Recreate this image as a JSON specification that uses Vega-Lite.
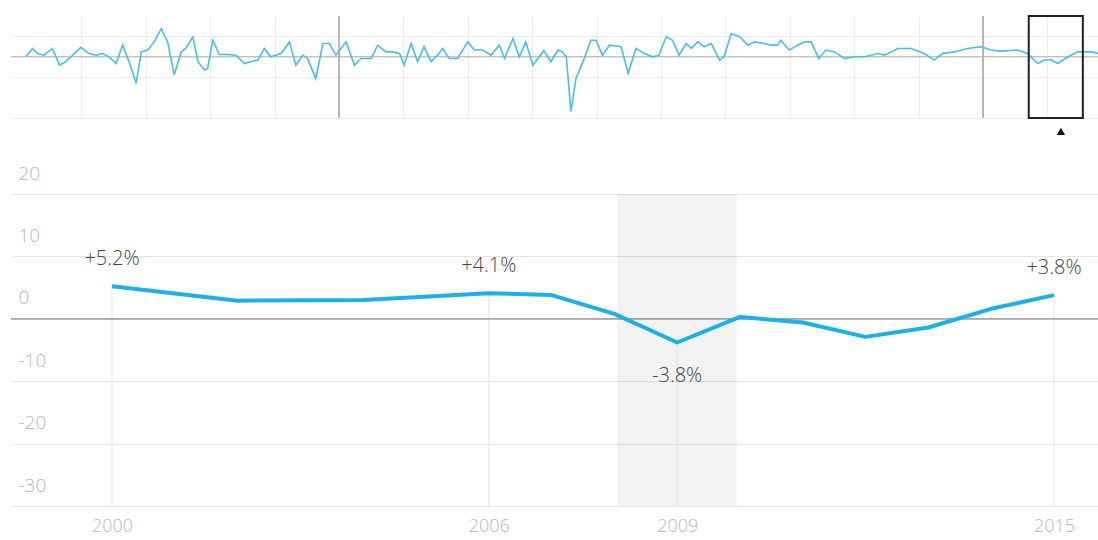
{
  "$schema": "https://vega.github.io/schema/vega-lite/v6.json",
  "background": "white",
  "padding": {"top": 15, "left": 10, "right": 0, "bottom": 0},
  "bounds": "flush",
  "spacing": 76,
  "config": {"view": {"stroke": null}, "font": "Open Sans"},
  "datasets": {
    "main": [
      {"year": 2000, "value": 5.2},
      {"year": 2002, "value": 2.9},
      {"year": 2004, "value": 3.0},
      {"year": 2006, "value": 4.1},
      {"year": 2007, "value": 3.8},
      {"year": 2008, "value": 0.8},
      {"year": 2009, "value": -3.8},
      {"year": 2010, "value": 0.3},
      {"year": 2011, "value": -0.6},
      {"year": 2012, "value": -2.9},
      {"year": 2013, "value": -1.4},
      {"year": 2014, "value": 1.6},
      {"year": 2015, "value": 3.8}
    ],
    "notes": [
      {"year": 2000, "value": 5.2, "label": "+5.2%", "pos": "above"},
      {"year": 2006, "value": 4.1, "label": "+4.1%", "pos": "above"},
      {"year": 2009, "value": -3.8, "label": "-3.8%", "pos": "below"},
      {"year": 2015, "value": 3.8, "label": "+3.8%", "pos": "above"}
    ],
    "overview": [
      {"t": 1995.14, "v": 0}, {"t": 1995.24, "v": 4.1}, {"t": 1995.32, "v": 1.6}, {"t": 1995.42, "v": 0.8},
      {"t": 1995.55, "v": 4.1}, {"t": 1995.66, "v": -4.1}, {"t": 1995.76, "v": -2.4}, {"t": 1995.99, "v": 4.6},
      {"t": 1996.12, "v": 1.6}, {"t": 1996.23, "v": 0.8}, {"t": 1996.33, "v": 1.6}, {"t": 1996.43, "v": 0},
      {"t": 1996.54, "v": -3.3}, {"t": 1996.64, "v": 5.7}, {"t": 1996.74, "v": -2.4}, {"t": 1996.85, "v": -13},
      {"t": 1996.93, "v": 2.4}, {"t": 1997.03, "v": 3.3}, {"t": 1997.13, "v": 7.3}, {"t": 1997.24, "v": 13.8},
      {"t": 1997.34, "v": 7.3}, {"t": 1997.44, "v": -8.9}, {"t": 1997.55, "v": 2.4}, {"t": 1997.62, "v": 4.1},
      {"t": 1997.73, "v": 9.8}, {"t": 1997.81, "v": -2.4}, {"t": 1997.91, "v": -6.5}, {"t": 1997.96, "v": -5.7},
      {"t": 1998.04, "v": 8.1}, {"t": 1998.14, "v": 1.1}, {"t": 1998.27, "v": 1.1}, {"t": 1998.40, "v": 0.8},
      {"t": 1998.53, "v": -3.3}, {"t": 1998.63, "v": -2.4}, {"t": 1998.74, "v": -1.6}, {"t": 1998.84, "v": 4.1},
      {"t": 1998.94, "v": 0}, {"t": 1999.10, "v": 1.6}, {"t": 1999.23, "v": 7.3}, {"t": 1999.33, "v": -4.1},
      {"t": 1999.44, "v": 0.8}, {"t": 1999.51, "v": -0.8}, {"t": 1999.64, "v": -10.6}, {"t": 1999.75, "v": 6.5},
      {"t": 1999.85, "v": 6.5}, {"t": 1999.95, "v": 0.8}, {"t": 2000.11, "v": 7.3}, {"t": 2000.24, "v": -4.1},
      {"t": 2000.34, "v": -0.8}, {"t": 2000.50, "v": -0.8}, {"t": 2000.60, "v": 5.7}, {"t": 2000.73, "v": 2.4},
      {"t": 2000.83, "v": 2.4}, {"t": 2000.94, "v": 1.6}, {"t": 2001.01, "v": -4.1}, {"t": 2001.12, "v": 6.5},
      {"t": 2001.22, "v": -2.4}, {"t": 2001.32, "v": 4.9}, {"t": 2001.43, "v": -2.4}, {"t": 2001.53, "v": 0.8},
      {"t": 2001.61, "v": 4.1}, {"t": 2001.71, "v": -0.8}, {"t": 2001.84, "v": -0.8}, {"t": 2002.00, "v": 7.3},
      {"t": 2002.10, "v": 3.3}, {"t": 2002.23, "v": 3.3}, {"t": 2002.36, "v": 0.8}, {"t": 2002.49, "v": 5.7},
      {"t": 2002.57, "v": -0.8}, {"t": 2002.70, "v": 8.9}, {"t": 2002.80, "v": 0}, {"t": 2002.90, "v": 7.3},
      {"t": 2003.01, "v": -4.1}, {"t": 2003.18, "v": 3.0}, {"t": 2003.29, "v": -2.4}, {"t": 2003.40, "v": 3.3},
      {"t": 2003.47, "v": 2.4}, {"t": 2003.53, "v": 0}, {"t": 2003.60, "v": -26.8}, {"t": 2003.68, "v": -10.6},
      {"t": 2003.81, "v": -0.8}, {"t": 2003.91, "v": 8.1}, {"t": 2003.99, "v": 8.1}, {"t": 2004.09, "v": 0.8},
      {"t": 2004.20, "v": 5.7}, {"t": 2004.38, "v": 4.9}, {"t": 2004.49, "v": -8.1}, {"t": 2004.61, "v": 4.1},
      {"t": 2004.74, "v": 1.6}, {"t": 2004.87, "v": 0}, {"t": 2004.97, "v": 0.8}, {"t": 2005.08, "v": 9.8},
      {"t": 2005.18, "v": 8.1}, {"t": 2005.28, "v": 0.8}, {"t": 2005.39, "v": 6.5}, {"t": 2005.47, "v": 4.1},
      {"t": 2005.57, "v": 7.3}, {"t": 2005.67, "v": 4.9}, {"t": 2005.78, "v": 6.5}, {"t": 2005.91, "v": -1.6},
      {"t": 2005.98, "v": 0}, {"t": 2006.09, "v": 11.4}, {"t": 2006.22, "v": 9.8}, {"t": 2006.35, "v": 5.7},
      {"t": 2006.45, "v": 7.3}, {"t": 2006.60, "v": 6.5}, {"t": 2006.71, "v": 5.7}, {"t": 2006.81, "v": 5.7},
      {"t": 2006.86, "v": 8.1}, {"t": 2006.99, "v": 3.3}, {"t": 2007.12, "v": 5.7}, {"t": 2007.23, "v": 7.3},
      {"t": 2007.33, "v": 7.3}, {"t": 2007.45, "v": -0.8}, {"t": 2007.56, "v": 3.3}, {"t": 2007.69, "v": 2.4},
      {"t": 2007.85, "v": -0.8}, {"t": 2008.00, "v": 0}, {"t": 2008.16, "v": 0}, {"t": 2008.37, "v": 1.6},
      {"t": 2008.47, "v": 0.8}, {"t": 2008.68, "v": 4.1}, {"t": 2008.88, "v": 4.1}, {"t": 2009.09, "v": 1.6},
      {"t": 2009.24, "v": -1.6}, {"t": 2009.37, "v": 1.6}, {"t": 2009.55, "v": 2.4}, {"t": 2009.76, "v": 4.1},
      {"t": 2009.97, "v": 4.9}, {"t": 2010.12, "v": 3.3}, {"t": 2010.28, "v": 2.8}, {"t": 2010.54, "v": 3.3},
      {"t": 2010.69, "v": 1.6}, {"t": 2010.85, "v": -3.3}, {"t": 2010.95, "v": -1.6}, {"t": 2011.06, "v": -1.6},
      {"t": 2011.16, "v": -3.3}, {"t": 2011.32, "v": 0}, {"t": 2011.47, "v": 2.4}, {"t": 2011.68, "v": 2.4},
      {"t": 2011.80, "v": 1.6}
    ]
  },
  "vconcat": [
    {
      "width": 1088,
      "height": 102,
      "layer": [
        {
          "data": {"values": [{"year": 2000}, {"year": 2010}]},
          "mark": {"type": "rule", "color": "#7a7a7a", "strokeWidth": 1},
          "encoding": {
            "x": {"field": "year", "type": "quantitative",
                  "scale": {"domain": [1994.907, 2011.801], "nice": false, "zero": false},
                  "axis": {"values": [1996, 1997, 1998, 1999, 2000, 2001, 2002, 2003, 2004, 2005, 2006, 2007, 2008, 2009, 2010, 2011],
                           "grid": true, "gridColor": "#ececec", "labels": false, "ticks": false, "domain": false, "title": null}}
          }
        },
        {
          "data": {"values": [{"v": 0}]},
          "mark": {"type": "rule", "color": "#a8a8a8", "strokeWidth": 1},
          "encoding": {
            "y": {"field": "v", "type": "quantitative",
                  "scale": {"domain": [-30, 20], "nice": false},
                  "axis": {"values": [-30, -20, -10, 0, 10, 20], "grid": true, "gridColor": "#ececec",
                           "labels": false, "ticks": false, "domain": false, "title": null}}
          }
        },
        {
          "data": {"name": "overview"},
          "mark": {"type": "line", "color": "#45bfee", "strokeWidth": 1.6, "clip": true},
          "encoding": {
            "x": {"field": "t", "type": "quantitative"},
            "y": {"field": "v", "type": "quantitative"}
          }
        },
        {
          "data": {"values": [{"a": 2010.71, "b": 2011.55}]},
          "mark": {"type": "rect", "fill": "white", "fillOpacity": 0, "stroke": "#222222", "strokeWidth": 2},
          "encoding": {
            "x": {"field": "a", "type": "quantitative"},
            "x2": {"field": "b"}
          }
        },
        {
          "data": {"values": [{"t": 2011.21, "v": -36.6}]},
          "mark": {"type": "point", "shape": "triangle-up", "filled": true, "color": "#111111", "size": 70, "opacity": 1},
          "encoding": {
            "x": {"field": "t", "type": "quantitative"},
            "y": {"field": "v", "type": "quantitative"}
          }
        }
      ]
    },
    {
      "width": 1088,
      "height": 312,
      "layer": [
        {
          "data": {"values": [{"start": 2008.05, "end": 2009.95}]},
          "mark": {"type": "rect", "fill": "#000000", "fillOpacity": 0.05},
          "encoding": {
            "x": {"field": "start", "type": "quantitative",
                  "scale": {"domain": [1998.392, 2015.717], "nice": false, "zero": false},
                  "axis": {"values": [2000, 2006, 2009, 2015], "format": "d", "grid": false, "ticks": false, "domain": false,
                           "labelColor": "#b8b8b8", "labelFontSize": 18, "labelFontWeight": 300, "labelFont": "Open Sans",
                           "labelPadding": 11, "title": null}},
            "x2": {"field": "end"}
          }
        },
        {
          "data": {"name": "notes"},
          "mark": {"type": "rule", "color": "#e4e4e4", "strokeWidth": 1},
          "encoding": {
            "x": {"field": "year", "type": "quantitative"},
            "y": {"field": "value", "type": "quantitative",
                  "scale": {"domain": [-30, 20], "nice": false},
                  "axis": {"values": [-30, -20, -10, 0, 10, 20], "labelExpr": "'' + datum.value", "grid": true, "gridColor": "#e6e6e6",
                           "ticks": false, "tickSize": 0, "domain": false, "labelAlign": "left", "labelBaseline": "bottom",
                           "labelPadding": -7, "labelOffset": -11, "labelColor": "#b8b8b8", "labelFontSize": 19,
                           "labelFontWeight": 300, "labelFont": "Open Sans", "title": null}},
            "y2": {"datum": -30}
          }
        },
        {
          "data": {"values": [{"v": 0}]},
          "mark": {"type": "rule", "color": "#8a8a8a", "strokeWidth": 1.3},
          "encoding": {"y": {"field": "v", "type": "quantitative"}}
        },
        {
          "data": {"name": "main"},
          "mark": {"type": "line", "color": "#1bb0ea", "strokeWidth": 4, "strokeJoin": "round", "strokeCap": "butt"},
          "encoding": {
            "x": {"field": "year", "type": "quantitative"},
            "y": {"field": "value", "type": "quantitative"}
          }
        },
        {
          "data": {"name": "notes"},
          "transform": [{"filter": "datum.pos === 'above'"}],
          "mark": {"type": "text", "dy": -27, "fontSize": 20, "fontWeight": 300, "font": "Open Sans", "color": "#444444"},
          "encoding": {
            "x": {"field": "year", "type": "quantitative"},
            "y": {"field": "value", "type": "quantitative"},
            "text": {"field": "label"}
          }
        },
        {
          "data": {"name": "notes"},
          "transform": [{"filter": "datum.pos === 'below'"}],
          "mark": {"type": "text", "dy": 33, "fontSize": 20, "fontWeight": 300, "font": "Open Sans", "color": "#444444"},
          "encoding": {
            "x": {"field": "year", "type": "quantitative"},
            "y": {"field": "value", "type": "quantitative"},
            "text": {"field": "label"}
          }
        }
      ]
    }
  ]
}
